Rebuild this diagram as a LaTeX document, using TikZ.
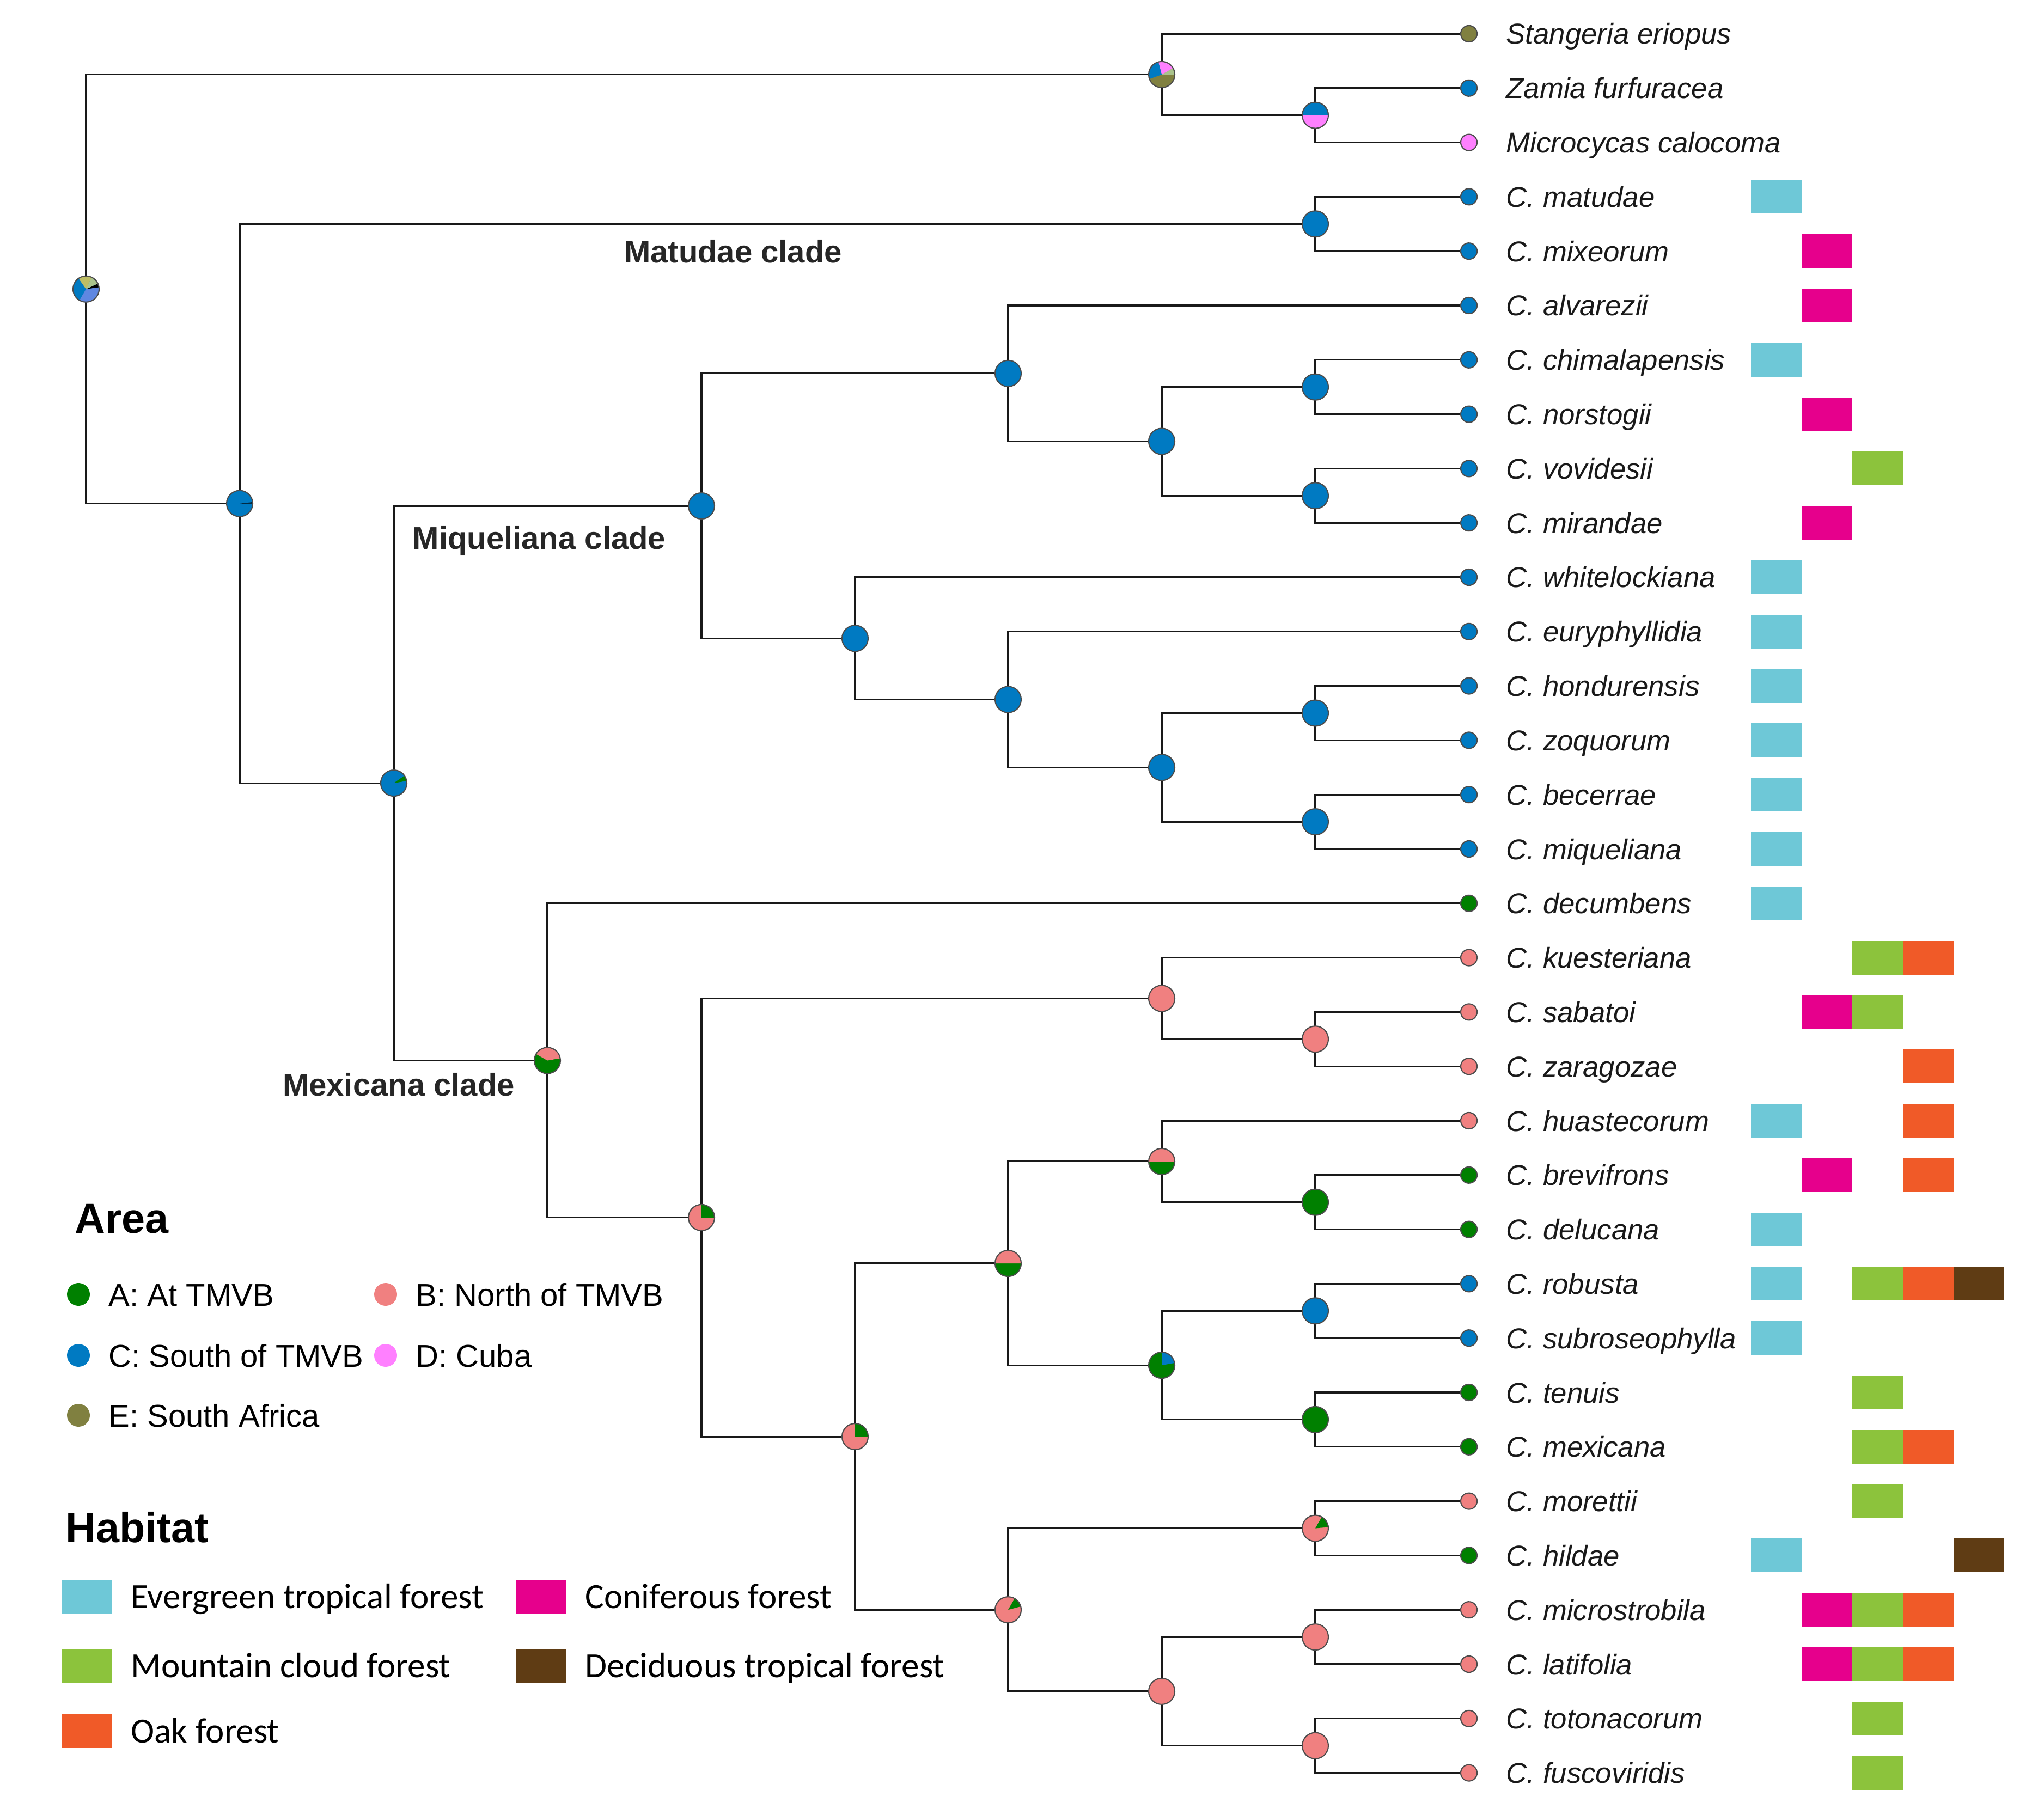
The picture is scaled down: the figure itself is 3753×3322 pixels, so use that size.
\documentclass[tikz,border=0pt]{standalone}
\usepackage{fontspec}
\setmainfont{Liberation Sans}
\newfontfamily\habfont{Carlito}
\usetikzlibrary{calc}

% area colours
\definecolor{cA}{RGB}{0,128,0}
\definecolor{cB}{RGB}{240,128,128}
\definecolor{cC}{RGB}{0,122,194}
\definecolor{cD}{RGB}{255,128,255}
\definecolor{cE}{RGB}{128,128,64}
\definecolor{cSage}{RGB}{170,195,140}
\definecolor{cCorn}{RGB}{95,135,225}
\definecolor{cYel}{RGB}{190,190,100}
% habitat colours
\definecolor{hEv}{RGB}{110,200,215}
\definecolor{hCo}{RGB}{230,0,140}
\definecolor{hMc}{RGB}{140,195,60}
\definecolor{hOa}{RGB}{240,90,40}
\definecolor{hDe}{RGB}{95,60,20}

\newcommand{\piewedge}[5]{\fill[#5] (#1) -- ++(-#2:#4) arc (-#2:-#3:#4) -- cycle;}
\newcommand{\pienode}[2]{\filldraw[rim, fill=#2] (#1) circle (24);}
\newcommand{\pierim}[1]{\draw[rim] (#1) circle (24);}

\begin{document}
\begin{tikzpicture}[x=0.01cm, y=-0.01cm,
	branch/.style={line width=0.9pt, draw=black!90},
	rim/.style={draw=black!70, line width=0.6pt},
	tiplabel/.style={anchor=base west, inner sep=0pt, text=black!90, font=\fontsize{15}{18}\selectfont\itshape},
	clade/.style={anchor=base, inner sep=0pt, text=black!85, font=\fontsize{16.5}{20}\selectfont\bfseries},
	legtitle/.style={anchor=base west, inner sep=0pt, font=\fontsize{22}{26}\selectfont\bfseries},
	arealabel/.style={anchor=base west, inner sep=0pt, font=\fontsize{16.5}{20}\selectfont},
	hablabel/.style={anchor=base west, inner sep=0pt, font=\habfont\fontsize{18.5}{22}\selectfont}]
	\useasboundingbox (0,0) rectangle (3753,3322);
	
	% tips
	\foreach \lab [count=\i from 0] in {Stangeria eriopus, Zamia furfuracea, Microcycas calocoma,
		C. matudae, C. mixeorum, C. alvarezii, C. chimalapensis, C. norstogii, C. vovidesii,
		C. mirandae, C. whitelockiana, C. euryphyllidia, C. hondurensis, C. zoquorum, C. becerrae,
		C. miqueliana, C. decumbens, C. kuesteriana, C. sabatoi, C. zaragozae, C. huastecorum,
		C. brevifrons, C. delucana, C. robusta, C. subroseophylla, C. tenuis, C. mexicana,
		C. morettii, C. hildae, C. microstrobila, C. latifolia, C. totonacorum, C. fuscoviridis}{
		\coordinate (t\i) at (2697, {62+99.8*\i});
		\node[tiplabel] (l\i) at (2765, {81+99.8*\i}) {\lab};
	}
	
	% internal nodes
	\coordinate (root) at (158, 530.8);
	\coordinate (out)  at (2133, 136.9);
	\coordinate (zm)   at (2415, 211.7);
	\coordinate (ing)  at (440, 924.7);
	\coordinate (mat)  at (2415, 411.3);
	\coordinate (mm)   at (723, 1438.1);
	\coordinate (miq)  at (1288, 929.0);
	\coordinate (alv)  at (1851, 685.8);
	\coordinate (cv)   at (2133, 810.5);
	\coordinate (cn)   at (2415, 710.7);
	\coordinate (vm)   at (2415, 910.3);
	\coordinate (wh)   at (1570, 1172.3);
	\coordinate (eu)   at (1851, 1284.6);
	\coordinate (hb)   at (2133, 1409.3);
	\coordinate (hz)   at (2415, 1309.5);
	\coordinate (bm)   at (2415, 1509.1);
	\coordinate (mex)  at (1005, 1947.5);
	\coordinate (mexb) at (1288, 2235.9);
	\coordinate (ku)   at (2133, 1833.5);
	\coordinate (sz)   at (2415, 1908.3);
	\coordinate (low)  at (1570, 2638.1);
	\coordinate (hr)   at (1851, 2320.0);
	\coordinate (hu)   at (2133, 2132.9);
	\coordinate (bd)   at (2415, 2207.7);
	\coordinate (rt)   at (2133, 2507.1);
	\coordinate (rs)   at (2415, 2407.3);
	\coordinate (tm)   at (2415, 2606.9);
	\coordinate (mo)   at (1851, 2956.2);
	\coordinate (mh)   at (2415, 2806.5);
	\coordinate (mt)   at (2133, 3105.9);
	\coordinate (ml)   at (2415, 3006.1);
	\coordinate (tf)   at (2415, 3205.7);
	
	% branches
	\foreach \p/\c in {root/out, root/ing, out/t0, out/zm, zm/t1, zm/t2,
		ing/mat, ing/mm, mat/t3, mat/t4, mm/miq, mm/mex,
		miq/alv, miq/wh, alv/t5, alv/cv, cv/cn, cv/vm, cn/t6, cn/t7, vm/t8, vm/t9,
		wh/t10, wh/eu, eu/t11, eu/hb, hb/hz, hb/bm, hz/t12, hz/t13, bm/t14, bm/t15,
		mex/t16, mex/mexb, mexb/ku, mexb/low, ku/t17, ku/sz, sz/t18, sz/t19,
		low/hr, low/mo, hr/hu, hr/rt, hu/t20, hu/bd, bd/t21, bd/t22,
		rt/rs, rt/tm, rs/t23, rs/t24, tm/t25, tm/t26,
		mo/mh, mo/mt, mh/t27, mh/t28, mt/ml, mt/tf, ml/t29, ml/t30, tf/t31, tf/t32}
		\draw[branch] (\p) |- (\c);
	
	% ancestral areas
	\foreach \n/\col in {mat/cC, miq/cC, alv/cC, cv/cC, cn/cC, vm/cC, wh/cC, eu/cC, hb/cC,
		hz/cC, bm/cC, ku/cB, sz/cB, bd/cA, rs/cC, tm/cA, mt/cB, ml/cB, tf/cB}
		\pienode{\n}{\col};
	
	\fill[cC] (root) circle (24);
	\piewedge{root}{240}{360}{24}{cCorn}
	\piewedge{root}{0}{8}{24}{cCorn}
	\piewedge{root}{8}{25}{24}{black}
	\piewedge{root}{25}{65}{24}{cSage}
	\piewedge{root}{65}{125}{24}{cYel}
	\pierim{root}
	
	\fill[cE] (out) circle (24);
	\piewedge{out}{0}{30}{24}{cSage}
	\piewedge{out}{30}{105}{24}{cD}
	\piewedge{out}{105}{200}{24}{cC}
	\pierim{out}
	
	\fill[cD] (zm) circle (24);
	\piewedge{zm}{0}{180}{24}{cC}
	\pierim{zm}
	
	\fill[cC] (ing) circle (24);
	\piewedge{ing}{0}{6}{24}{black}
	\pierim{ing}
	
	\fill[cC] (mm) circle (24);
	\piewedge{mm}{10}{35}{24}{cA}
	\pierim{mm}
	
	\fill[cA] (mex) circle (24);
	\piewedge{mex}{10}{150}{24}{cB}
	\pierim{mex}
	
	\foreach \n in {mexb, low}{
		\fill[cB] (\n) circle (24);
		\piewedge{\n}{0}{90}{24}{cA}
		\pierim{\n}
	}
	
	\foreach \n in {hr, hu}{
		\fill[cA] (\n) circle (24);
		\piewedge{\n}{0}{180}{24}{cB}
		\pierim{\n}
	}
	
	\fill[cA] (rt) circle (24);
	\piewedge{rt}{10}{90}{24}{cC}
	\pierim{rt}
	
	\fill[cB] (mo) circle (24);
	\piewedge{mo}{15}{60}{24}{cA}
	\pierim{mo}
	
	\fill[cB] (mh) circle (24);
	\piewedge{mh}{5}{60}{24}{cA}
	\pierim{mh}
	
	% tip areas
	\foreach \i/\col in {0/cE, 1/cC, 2/cD, 3/cC, 4/cC, 5/cC, 6/cC, 7/cC, 8/cC, 9/cC, 10/cC,
		11/cC, 12/cC, 13/cC, 14/cC, 15/cC, 16/cA, 17/cB, 18/cB, 19/cB, 20/cB, 21/cA, 22/cA,
		23/cC, 24/cC, 25/cA, 26/cA, 27/cB, 28/cA, 29/cB, 30/cB, 31/cB, 32/cB}
		\filldraw[rim, fill=\col] (t\i) circle (15);
	
	% habitat bars
	\foreach \r/\c/\col in {3/0/hEv, 4/1/hCo, 5/1/hCo, 6/0/hEv, 7/1/hCo, 8/2/hMc, 9/1/hCo,
		10/0/hEv, 11/0/hEv, 12/0/hEv, 13/0/hEv, 14/0/hEv, 15/0/hEv, 16/0/hEv,
		17/2/hMc, 17/3/hOa, 18/1/hCo, 18/2/hMc, 19/3/hOa, 20/0/hEv, 20/3/hOa,
		21/1/hCo, 21/3/hOa, 22/0/hEv, 23/0/hEv, 23/2/hMc, 23/3/hOa, 23/4/hDe,
		24/0/hEv, 25/2/hMc, 26/2/hMc, 26/3/hOa, 27/2/hMc, 28/0/hEv, 28/4/hDe,
		29/1/hCo, 29/2/hMc, 29/3/hOa, 30/1/hCo, 30/2/hMc, 30/3/hOa, 31/2/hMc, 32/2/hMc}
		\fill[\col] ({3215+93*\c}, {31+99.8*\r}) rectangle +(93,62);
	
	% clade names
	\node[clade] (matlab) at (1346, 483) {Matudae clade};
	\node[clade] (miqlab) at (990, 1009) {Miqueliana clade};
	\node[clade] (mexlab) at (732, 2012) {Mexicana clade};
	
	% legend: area
	\node[legtitle] (areatitle) at (137, 2264) {Area};
	\foreach \x/\y/\col/\txt in {144/2377/cA/A: At TMVB, 708/2377/cB/B: North of TMVB,
		144/2489/cC/C: South of TMVB, 708/2489/cD/D: Cuba, 144/2599/cE/E: South Africa}{
		\fill[\col] (\x,\y) circle (21);
		\node[arealabel] at ({\x+55}, {\y+21}) {\txt};
	}
	
	% legend: habitat
	\node[legtitle] (habtitle) at (120, 2832) {Habitat};
	\foreach \x/\y/\col/\txt in {114/2932/hEv/Evergreen tropical forest, 948/2932/hCo/Coniferous forest,
		114/3059/hMc/Mountain cloud forest, 948/3059/hDe/Deciduous tropical forest,
		114/3179/hOa/Oak forest}{
		\fill[\col] (\x,{\y-31}) rectangle +(92,62);
		\node[hablabel] at ({\x+126}, {\y+21}) {\txt};
	}
\end{tikzpicture}
\end{document}
